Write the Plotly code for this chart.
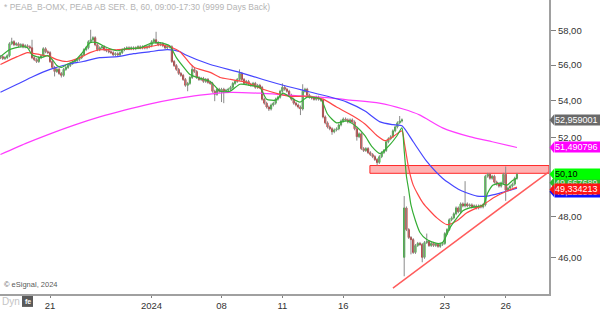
import math
import plotly.graph_objects as go

# ---------------- data ----------------
first_bar = -22          # index of first visible hourly bar (bar 0 = 21 Dec 09:00)

closes = [
    # partial day
    56.49, 56.38, 56.43, 56.54,
    # Dec 19
    57.24, 57.36, 57.18, 57.24, 57.12, 57.18, 57.06, 57.12, 57.06,
    # Dec 20
    57.00, 56.43, 56.32, 56.21, 56.43, 56.54, 56.95, 56.77, 56.72,
    # Dec 21
    56.21, 55.87, 55.64, 55.76, 55.53, 55.42, 55.76, 55.87, 55.98,
    # Dec 22
    56.10, 56.21, 56.26, 56.32, 56.43, 56.60, 56.89, 57.00, 57.36,
    # Dec 27
    57.47, 57.59, 57.18, 56.89, 57.00, 57.06, 56.89, 56.83, 56.77,
    # Dec 28
    56.72, 56.60, 56.66, 56.60, 56.72, 56.89, 56.95, 57.00, 56.95,
    # Dec 29
    57.00, 56.95, 57.00, 57.06, 57.00, 57.06, 57.00, 57.06, 57.12,
    # Jan 2
    57.36, 57.47, 57.30, 57.18, 57.24, 57.12, 57.00, 57.06, 57.06,
    # Jan 3
    56.21, 55.98, 55.76, 55.53, 55.42, 55.19, 54.86, 54.97, 55.30,
    # Jan 4
    55.76, 55.64, 55.30, 55.19, 55.25, 55.08, 55.19, 55.03, 54.97,
    # Jan 5 (half day)
    54.53, 54.36, 54.64, 54.53,
    # Jan 8
    54.64, 54.53, 54.58, 54.64, 54.75, 54.97, 55.08, 55.19, 55.53,
    # Jan 9
    55.19, 54.97, 55.08, 54.92, 54.86, 54.97, 54.75, 54.86, 54.75,
    # Jan 10
    54.09, 53.87, 53.66, 53.55, 53.77, 53.87, 54.09, 54.20, 54.53,
    # Jan 11
    54.75, 54.64, 54.53, 54.31, 54.09, 53.87, 53.77, 53.66, 53.55,
    # Jan 12
    54.53, 54.64, 54.31, 54.20, 54.15, 54.09, 54.20, 54.09, 54.04,
    # Jan 15
    53.12, 52.80, 52.58, 52.48, 52.32, 52.42, 52.48, 52.69, 52.90,
    # Jan 16
    53.01, 52.96, 52.85, 52.96, 52.85, 52.48, 52.06, 52.21, 51.43,
    # Jan 17
    51.33, 51.43, 51.22, 51.12, 51.01, 50.86, 50.71, 51.01, 51.22,
    # Jan 18
    51.33, 51.79, 51.95, 52.06, 52.37, 52.58, 52.80, 52.90, 52.96,
    # Jan 19
    48.41, 47.35, 46.97, 46.87, 46.26, 46.59, 46.69, 46.64, 46.03,
    # Jan 22
    46.73, 46.78, 46.59, 46.69, 46.59, 46.64, 46.55, 46.64, 46.69,
    # Jan 23
    47.16, 47.35, 47.83, 47.92, 48.12, 48.41, 48.22, 48.61, 48.51,
    # Jan 24
    48.61, 48.51, 48.56, 48.46, 48.51, 48.41, 48.51, 48.46, 48.56,
    # Jan 25
    50.00, 50.10, 49.90, 50.00, 49.70, 49.60, 49.50, 49.65, 50.10,
    # Jan 26
    49.30, 49.40, 49.50, 49.60, 49.90, 50.10,
]
first_open = 56.43
gap_open_idx = [157]
gap_open_val = [46.03]

wick_hi_idx = [-17, -8, 18, 47, 63, 84, 103, 112, 155, 157, 167, 184, 202]
wick_hi_val = [57.59, 57.47, 58.06, 57.94, 55.98, 55.76, 54.97, 54.92, 53.17, 49.00, 47.16, 49.75, 50.50]
wick_lo_idx = [2, 5, 61, 73, 76, 77, 97, 111, 125, 136, 145, 157, 160, 165, 202]
wick_lo_val = [55.36, 55.30, 54.53, 53.98, 53.93, 53.87, 53.44, 53.22, 52.16, 51.85, 50.55, 45.15, 46.17, 45.80, 48.76]

green_ma_idx = [-22, -18, -13, -10, -8, -4, -1, 1, 3, 5, 7.5, 11, 14.6, 17.7, 20.8, 24.4, 29.7, 34, 40, 44.3,
                48.8, 53, 56, 60, 62, 66.5, 71, 75.4, 79.8, 84.2, 88.7, 93, 96, 100, 103.3, 106.4, 110.8, 114,
                120, 123, 127, 131.6, 136, 139.6, 142.7, 146.3, 150.7, 153.8, 156, 157, 158, 159, 160, 162,
                164, 167, 171.5, 174, 177.3, 180.4, 183, 186, 192, 194, 196.4, 199.5, 202.6, 205.2, 207]
green_ma_val = [56.49, 56.89, 57.06, 57.00, 56.60, 56.43, 56.55, 56.32, 55.98, 55.87, 56.05, 56.26, 56.77, 57.30,
                57.30, 57.06, 56.83, 56.95, 57.00, 57.24, 57.30, 57.12, 56.43, 55.76, 55.47, 55.25, 55.08, 54.53,
                54.53, 54.92, 54.86, 54.75, 54.09, 54.04, 54.42, 54.20, 53.93, 54.20, 54.09, 53.28, 52.80, 52.90,
                52.58, 52.11, 51.53, 51.17, 51.64, 52.11, 52.53, 51.33, 50.00, 49.30, 48.56, 47.78, 47.21, 46.87,
                46.69, 46.73, 47.44, 47.92, 48.27, 48.41, 48.56, 49.15, 49.55, 49.65, 49.55, 49.80, 49.90]

red_ma_idx = [-22, -14.6, -10, -4.4, 0, 3, 7.5, 13.3, 17.7, 22, 30, 37, 44, 49, 53, 57.6, 62, 64, 71, 75.4, 80,
              87, 94.4, 102, 106.4, 114, 121, 127, 134.3, 139.6, 145, 148.5, 152, 156, 157, 159, 161, 165.3,
              171.5, 176, 180.4, 184.8, 192, 196.4, 202.6, 207]
red_ma_val = [56.04, 56.49, 56.72, 56.60, 56.49, 56.32, 56.21, 56.43, 56.72, 56.89, 56.89, 56.95, 57.06, 57.18,
              57.06, 56.77, 56.10, 55.87, 55.59, 55.30, 55.19, 55.03, 54.64, 54.36, 54.25, 54.25, 54.09, 53.66,
              53.17, 52.74, 52.11, 51.85, 52.06, 52.37, 51.79, 50.40, 49.55, 48.66, 47.92, 47.59, 47.78, 48.17,
              48.56, 48.90, 49.25, 49.45]

blue_ma_idx = [-22, -14.6, -7.5, 0, 7.5, 14.6, 22, 30, 37, 44, 52, 57.6, 60, 71, 84, 94.4, 105, 114, 123, 131.6,
               139.6, 146.3, 152, 156, 161, 167, 174, 181.7, 189.3, 193.7, 199.5, 207]
blue_ma_val = [54.47, 54.92, 55.36, 55.76, 56.04, 56.21, 56.43, 56.49, 56.66, 56.77, 56.89, 56.77, 56.60, 56.04,
               55.59, 55.19, 54.81, 54.53, 54.25, 53.93, 53.44, 52.85, 52.70, 52.64, 51.79, 50.76, 49.90, 49.30,
               49.00, 49.00, 49.15, 49.40]

magenta_ma_idx = [-22, -11, 0, 11, 22, 33, 44, 55, 66.5, 80, 93, 106, 120, 133, 146, 156.5, 164, 174, 186, 196, 207]
magenta_ma_val = [51.12, 51.69, 52.21, 52.69, 53.12, 53.49, 53.82, 54.09, 54.31, 54.47, 54.42, 54.31, 54.20, 54.04,
                  53.87, 53.55, 53.22, 52.53, 52.06, 51.79, 51.49]

zone_idx = [141.8]          # left edge of resistance zone
zone_low, zone_high = 50.15, 50.55
support_idx = [152, 221.2]
support_val = [44.61, 50.23]

tick_idx = [0, 45, 76, 103, 130, 175, 202]
tick_txt = ['21', '2024', '08', '11', '16', '23', '26']
price_ticks = [46, 48, 52, 54, 56, 58]

# right-axis value tags: text, value, background, text colour
tags = [
    ('49,221580', 49.22, '#1010ff', '#ffffff'),
    ('49,667689', 49.667689, '#2db82d', '#e8e8e8'),
    ('49,334213', 49.334213, '#ff1414', '#ffffff'),
    ('50,10', 50.10, '#00ff00', '#000000'),
    ('51,490796', 51.490796, '#ff00ff', '#ffffff'),
    ('52,959001', 52.959001, '#6a6a6a', '#ffffff'),
]

# ---------------- build ----------------
X_MIN, X_MAX = -22.2, 221.2
Y_LO, Y_HI = math.log10(44.34), math.log10(59.85)
PLOT_W, PLOT_H = 549, 296
FONT = 'Liberation Sans, Arial, sans-serif'

n = len(closes)
idx = list(range(first_bar, first_bar + n))
opens = [first_open] + closes[:-1]
for gi, gv in zip(gap_open_idx, gap_open_val):
    opens[gi - first_bar] = gv

wick_pad = 0.0015
highs = [max(o, c) * (1 + wick_pad) for o, c in zip(opens, closes)]
lows = [min(o, c) * (1 - wick_pad) for o, c in zip(opens, closes)]
for wi, wv in zip(wick_hi_idx, wick_hi_val):
    highs[wi - first_bar] = wv
for wi, wv in zip(wick_lo_idx, wick_lo_val):
    lows[wi - first_bar] = wv

fig = go.Figure()

# resistance zone
fig.add_trace(go.Scatter(
    x=[zone_idx[0], X_MAX, X_MAX, zone_idx[0], zone_idx[0]],
    y=[zone_low, zone_low, zone_high, zone_high, zone_low],
    mode='lines', fill='toself', fillcolor='#ffb3b3',
    line=dict(color='#ff2a2a', width=1), hoverinfo='skip'))

# wicks
wx, wy = [], []
for i, h, l in zip(idx, highs, lows):
    wx += [i, i, None]
    wy += [l, h, None]
fig.add_trace(go.Scatter(x=wx, y=wy, mode='lines',
                         line=dict(color='#8a8a8a', width=1), hoverinfo='skip'))

# bodies
fig.add_trace(go.Candlestick(
    x=idx, open=opens, close=closes,
    high=[max(o, c) for o, c in zip(opens, closes)],
    low=[min(o, c) for o, c in zip(opens, closes)],
    increasing=dict(line=dict(color='#28b828', width=1), fillcolor='#28b828'),
    decreasing=dict(line=dict(color='#c82222', width=1), fillcolor='#c82222'),
    whiskerwidth=0, hoverinfo='skip'))

# moving averages
for xs, ys, col in [(magenta_ma_idx, magenta_ma_val, '#ff3cff'),
                    (blue_ma_idx, blue_ma_val, '#4646ff'),
                    (red_ma_idx, red_ma_val, '#ff4646'),
                    (green_ma_idx, green_ma_val, '#35ad35')]:
    fig.add_trace(go.Scatter(x=xs, y=ys, mode='lines',
                             line=dict(color=col, width=1.2, shape='spline', smoothing=0.6),
                             hoverinfo='skip'))

# support line
fig.add_trace(go.Scatter(x=support_idx, y=support_val, mode='lines',
                         line=dict(color='#ff5c5c', width=1.5), hoverinfo='skip'))


def px_x(px):
    return px / PLOT_W


def px_y(py):
    return 1 - py / PLOT_H


def val_y(v):
    return (math.log10(v) - Y_LO) / (Y_HI - Y_LO)


shapes = []
annotations = []
half = 5.5 / PLOT_H
for text, val, bg, fg in tags:
    yc = val_y(val)
    shapes.append(dict(
        type='path', xref='paper', yref='paper', layer='above',
        path=f'M {px_x(549.5)} {yc} L {px_x(554)} {yc + half} L {px_x(554)} {yc - half} Z',
        fillcolor=bg, line=dict(width=0)))
    annotations.append(dict(
        x=px_x(553.5), y=yc, xref='paper', yref='paper', xanchor='left', yanchor='middle',
        text=text, showarrow=False, bgcolor=bg, width=46, height=10, borderpad=0,
        align='left', font=dict(family=FONT, size=9, color=fg)))

annotations.append(dict(
    x=px_x(2), y=px_y(7), xref='paper', yref='paper', xanchor='left', yanchor='middle',
    text='* PEAB_B-OMX, PEAB AB SER. B, 60, 09:00-17:30 (9999 Days Back)', showarrow=False,
    font=dict(family=FONT, size=8.5, color='#b4b4b4')))
annotations.append(dict(
    x=px_x(2), y=px_y(286), xref='paper', yref='paper', xanchor='left', yanchor='middle',
    text='© eSignal, 2024', showarrow=False,
    font=dict(family=FONT, size=7.5, color='#5a5a5a')))
annotations.append(dict(
    x=px_x(0), y=px_y(304), xref='paper', yref='paper', xanchor='left', yanchor='middle',
    text='Dyn', showarrow=False, font=dict(family=FONT, size=10, color='#c4c4c4')))
shapes.append(dict(type='rect', xref='paper', yref='paper',
                   x0=px_x(22), x1=px_x(33), y0=px_y(309), y1=px_y(298),
                   fillcolor='#5a5a5a', line=dict(width=0)))
annotations.append(dict(
    x=px_x(27.5), y=px_y(304), xref='paper', yref='paper', xanchor='center', yanchor='middle',
    text='<b>fe</b>', showarrow=False, font=dict(family=FONT, size=7, color='#ffffff')))

fig.update_layout(
    width=600, height=311,
    margin=dict(l=0, r=51, t=0, b=15, pad=0),
    paper_bgcolor='white', plot_bgcolor='white',
    showlegend=False,
    shapes=shapes, annotations=annotations,
    xaxis=dict(range=[X_MIN, X_MAX], rangeslider=dict(visible=False),
               showgrid=False, zeroline=False, showline=True, linecolor='#a0a0a0', linewidth=2,
               ticks='outside', ticklen=2, tickcolor='#808080',
               tickvals=tick_idx, ticktext=tick_txt,
               tickfont=dict(family=FONT, size=9.5, color='#333333')),
    yaxis=dict(type='log', range=[Y_LO, Y_HI], side='right',
               showgrid=False, zeroline=False, showline=True, linecolor='#a0a0a0', linewidth=2,
               ticks='outside', ticklen=5, tickcolor='#808080',
               tickvals=price_ticks, ticktext=[f'{t:.2f}'.replace('.', ',') for t in price_ticks],
               tickfont=dict(family=FONT, size=9.5, color='#333333')),
)

fig.write_html('out.html')
